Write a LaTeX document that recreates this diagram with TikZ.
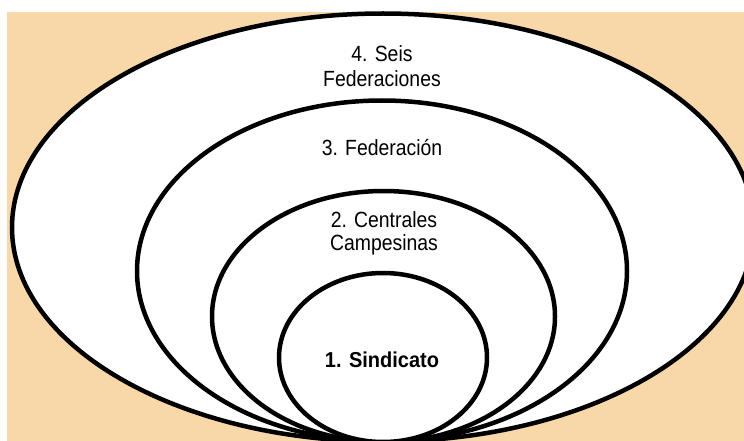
\documentclass[tikz,border=0pt]{standalone}
\usepackage{fontspec}
\setmainfont{Liberation Sans}
\definecolor{peach}{HTML}{F8D8A8}
\newcommand{\tallt}[1]{\scalebox{0.97}[1.1]{#1}}
\begin{document}
\begin{tikzpicture}[x=1pt,y=-1pt,
  ring/.style={draw=black,fill=white,line width=4.5pt},
  lbl/.style={align=center,font=\fontsize{20}{25}\selectfont,inner sep=0pt},
  lblb/.style={align=center,font=\fontsize{20}{25}\selectfont\bfseries,inner sep=0pt}]
\useasboundingbox (0,0) rectangle (744,441);
\clip (0,0) rectangle (744,441);
\fill[white] (0,0) rectangle (744,441);
\fill[peach] (7,12) rectangle (744,441);
\draw[ring] (383,227.5) ellipse [x radius=371, y radius=214];
\draw[ring] (382,271) ellipse [x radius=245, y radius=170.5];
\draw[ring] (383.5,316.5) ellipse [x radius=171.5, y radius=125.5];
\draw[ring] (383,357.5) ellipse [x radius=104, y radius=84.5];
\node[lbl,anchor=base] (l4a) at (382,62) {\tallt{4. Seis}};
\node[lbl,anchor=base] (l4b) at (382,87) {\tallt{Federaciones}};
\node[lbl,anchor=base] (l3) at (382,156) {\tallt{3. Federación}};
\node[lbl,anchor=base] (l2a) at (384,227) {\tallt{2. Centrales}};
\node[lbl,anchor=base] (l2b) at (384,250) {\tallt{Campesinas}};
\node[lblb,anchor=base] (l1) at (382,367) {\scalebox{1}[1.08]{1. Sindicato}};
\end{tikzpicture}
\end{document}
